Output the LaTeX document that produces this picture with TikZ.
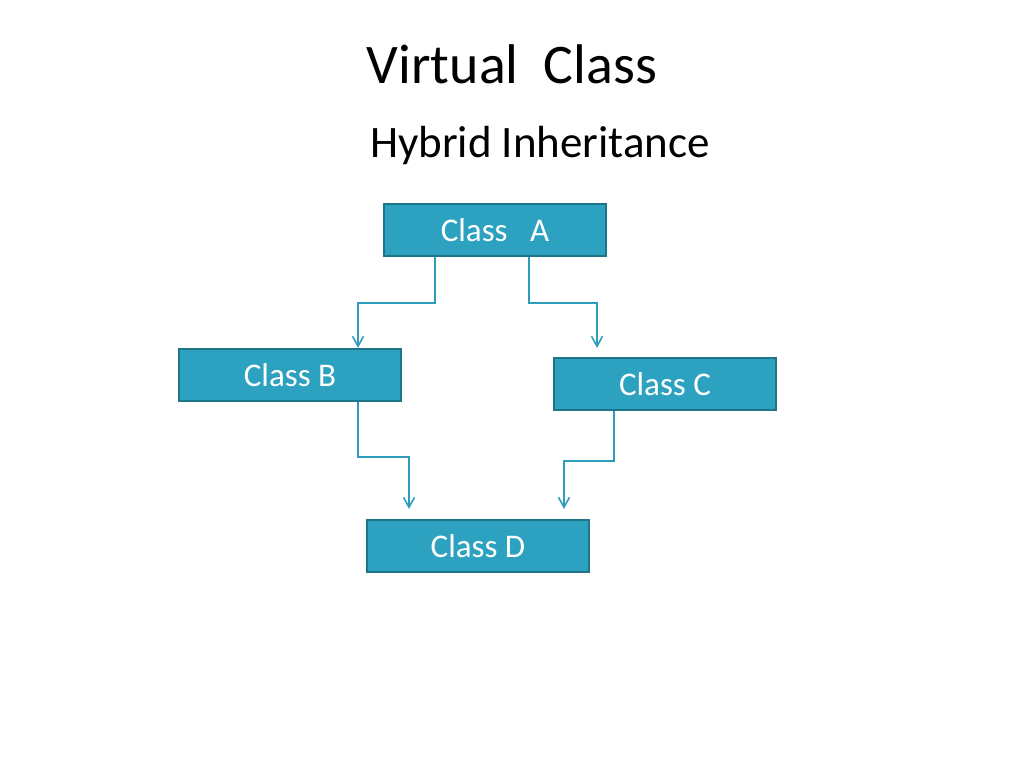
\documentclass[tikz,border=0pt]{standalone}
\usepackage{fontspec}
\setmainfont{Carlito}
\usetikzlibrary{arrows.meta}
\definecolor{boxfill}{HTML}{2DA2C0}
\definecolor{boxline}{HTML}{1F7488}
\definecolor{linkcol}{HTML}{2E9DBC}

\begin{document}
\begin{tikzpicture}[
	classbox/.style={draw=boxline,line width=0.6pt,fill=boxfill,text=white,
		minimum width=2.22cm,minimum height=0.52cm,inner sep=0pt,
		font=\fontsize{9.4}{11}\selectfont},
	link/.style={draw=linkcol,line width=0.45pt,
		-{Straight Barb[length=1mm,width=1.1mm]}}]
	\useasboundingbox (0,0) rectangle (10.24,-7.68);
		\node (title) at (5.12,-0.64) {\fontsize{15.9}{18}\selectfont Virtual\ \ Class};
		\node (sub) at (5.40,-1.46) {\fontsize{12.8}{15}\selectfont Hybrid Inheritance};
			\node[classbox] (A) at (4.95,-2.30) {Class\ \ \ A};
			\node[classbox] (B) at (2.90,-3.75) {Class B};
			\node[classbox] (C) at (6.65,-3.84) {Class C};
			\node[classbox] (D) at (4.78,-5.46) {Class D};
				\draw[link] ([xshift=-6mm]A.south) -- ++(0,-0.46) -| ([xshift=6.8mm]B.north);
				\draw[link] ([xshift=3.4mm]A.south) -- ++(0,-0.46) -| ([xshift=-6.8mm,yshift=0.9mm]C.north);
				\draw[link] ([xshift=6.8mm]B.south) -- ++(0,-0.55) -| ([xshift=-6.9mm,yshift=1mm]D.north);
				\draw[link] ([xshift=-5.1mm]C.south) -- ++(0,-0.50) -| ([xshift=8.6mm,yshift=1mm]D.north);
\end{tikzpicture}
\end{document}
